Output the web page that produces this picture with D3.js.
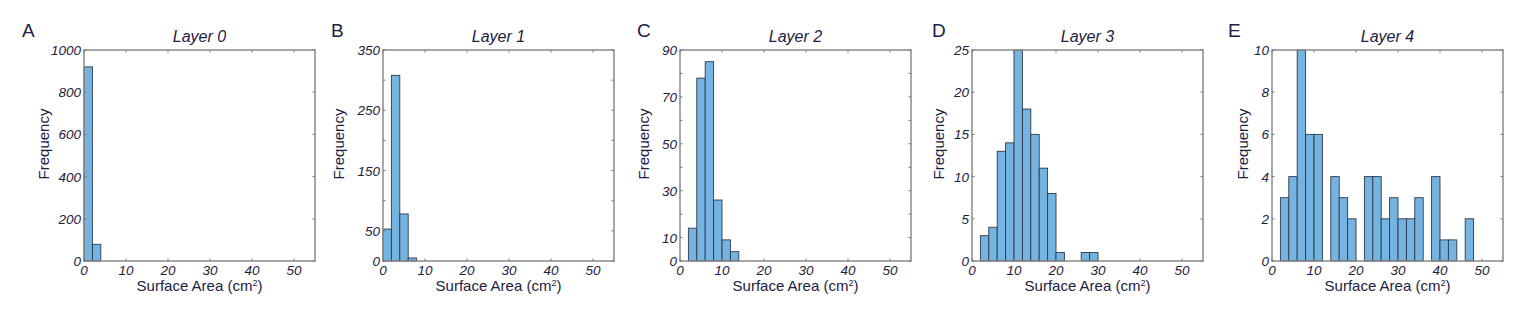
<!DOCTYPE html>
<html><head><meta charset="utf-8">
<script src="https://cdn.jsdelivr.net/npm/d3@7"></script>
<style>body{margin:0;background:#fff}svg{display:block}</style>
</head><body>
<svg id="c" width="1536" height="309"></svg>
<script>
// Data: counts per 2 cm² bin, starting at 0
const binWidth = 2;
const layer0 = [920, 79];
const layer1 = [53, 308, 78, 5];
const layer2 = [0, 14, 78, 85, 26, 9, 4];
const layer3 = [0, 3, 4, 13, 14, 25, 18, 15, 11, 8, 1, 0, 0, 1, 1];
const layer4 = [0, 3, 4, 10, 6, 6, 0, 4, 3, 2, 0, 4, 4, 2, 3, 2, 2, 3, 0, 4, 1, 1, 0, 2];
const titles = ["Layer 0", "Layer 1", "Layer 2", "Layer 3", "Layer 4"];
const letters = ["A", "B", "C", "D", "E"];
const yMax = [1000, 350, 90, 25, 10];
const yTickLabels = [[0,200,400,600,800,1000],[0,50,150,250,350],[0,10,30,50,70,90],[0,5,10,15,20,25],[0,2,4,6,8,10]];
const yTickMarks = [[0,200,400,600,800,1000],[0,50,100,150,200,250,300,350],[0,10,20,30,40,50,60,70,80,90],[0,5,10,15,20,25],[0,2,4,6,8,10]];
const xTicks = [0,10,20,30,40,50];
const xMax = 55;
const series = [layer0, layer1, layer2, layer3, layer4];

const svg = d3.select("#c");
const boxLeft = [84, 383, 680, 972, 1272];
const W = 231, plotTop = 50, plotBottom = 261;
const txt = "#1c2142";
const font = "Arial, 'Liberation Sans', sans-serif";
const letterX = [22, 331, 637, 932, 1228];
const ylabX = [44, 339, 644, 939, 1243];

series.forEach((data, i) => {
  const x = d3.scaleLinear().domain([0, xMax]).range([boxLeft[i], boxLeft[i] + W]);
  const y = d3.scaleLinear().domain([0, yMax[i]]).range([plotBottom, plotTop]);
  const g = svg.append("g");
  g.selectAll("rect.bar").data(data.map((v, k) => ({v, k})).filter(d => d.v > 0))
    .enter().append("rect")
    .attr("x", d => x(d.k * binWidth))
    .attr("width", d => x((d.k + 1) * binWidth) - x(d.k * binWidth))
    .attr("y", d => y(d.v))
    .attr("height", d => y(0) - y(d.v))
    .attr("fill", "#75b4e0")
    .attr("stroke", "#2f3a48")
    .attr("stroke-width", 0.9);
  g.append("rect").attr("x", x(0)).attr("y", plotTop).attr("width", W).attr("height", plotBottom - plotTop)
    .attr("fill", "none").attr("stroke", "#8a8a8a").attr("stroke-width", 1.5);
  xTicks.forEach(t => {
    g.append("line").attr("x1", x(t)).attr("x2", x(t)).attr("y1", plotTop).attr("y2", plotTop + 2.5).attr("stroke", "#777");
    g.append("line").attr("x1", x(t)).attr("x2", x(t)).attr("y1", plotBottom).attr("y2", plotBottom - 2.5).attr("stroke", "#777");
  });
  yTickMarks[i].forEach(t => {
    g.append("line").attr("x1", x(0)).attr("x2", x(0) + 2.5).attr("y1", y(t)).attr("y2", y(t)).attr("stroke", "#777");
    g.append("line").attr("x1", x(xMax)).attr("x2", x(xMax) - 2.5).attr("y1", y(t)).attr("y2", y(t)).attr("stroke", "#777");
  });
  g.selectAll("text.xt").data(xTicks).enter().append("text")
    .attr("x", d => x(d)).attr("y", plotBottom + 14).attr("text-anchor", "middle")
    .attr("font-family", font).attr("font-style", "italic").attr("font-size", 13.5).attr("fill", txt)
    .text(d => d);
  g.selectAll("text.yt").data(yTickLabels[i]).enter().append("text")
    .attr("x", x(0) - 3).attr("y", d => y(d) + 5).attr("text-anchor", "end")
    .attr("font-family", font).attr("font-style", "italic").attr("font-size", 13.5).attr("fill", txt)
    .text(d => d);
  g.append("text").attr("x", x(0) + W / 2).attr("y", 42).attr("text-anchor", "middle")
    .attr("font-family", font).attr("font-style", "italic").attr("font-size", 16).attr("fill", txt)
    .text(titles[i]);
  const xl = g.append("text").attr("x", x(0) + W / 2).attr("y", 291).attr("text-anchor", "middle")
    .attr("font-family", font).attr("font-size", 15).attr("fill", txt);
  xl.append("tspan").text("Surface Area (cm");
  xl.append("tspan").attr("font-size", 9).attr("dy", -5).text("2");
  xl.append("tspan").attr("dy", 5).text(")");
  g.append("text").attr("transform", `translate(${ylabX[i] + 5},144) rotate(-90)`).attr("text-anchor", "middle")
    .attr("font-family", font).attr("font-size", 15).attr("fill", txt).text("Frequency");
  g.append("text").attr("x", letterX[i]).attr("y", 37)
    .attr("font-family", font).attr("font-size", 19).attr("fill", txt).text(letters[i]);
});
</script>
</body></html>
